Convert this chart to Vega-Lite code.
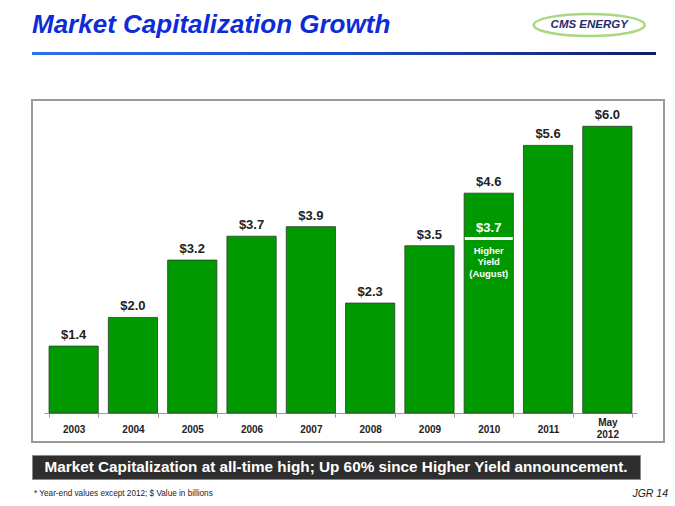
{
  "$schema": "https://vega.github.io/schema/vega-lite/v6.json",
  "padding": {"left": 31, "top": 8, "right": 0, "bottom": 0},
  "background": "white",
  "bounds": "flush",
  "spacing": 13,
  "config": {"view": {"stroke": null}, "font": "Liberation Sans"},
  "vconcat": [
    {
      "width": 624,
      "height": 78,
      "data": {"values": [{"title": "Market Capitalization Growth", "logo": "CMS ENERGY"}]},
      "layer": [
        {
          "mark": {"type": "text", "font": "Liberation Sans", "fontSize": 26, "fontWeight": "bold", "fontStyle": "italic", "color": "#0d2bdb", "align": "left", "baseline": "middle"},
          "encoding": {
            "x": {"datum": 0, "type": "quantitative", "scale": {"domain": [0, 1]}, "axis": null},
            "y": {"datum": 0.795, "type": "quantitative", "scale": {"domain": [0, 1]}, "axis": null},
            "text": {"field": "title"}
          }
        },
        {
          "mark": {"type": "point", "shape": "M -1 0 A 1 0.2 0 1 1 1 0 A 1 0.2 0 1 1 -1 0", "size": 12321, "filled": false, "strokeWidth": 2.5, "color": "#86c94a"},
          "encoding": {
            "x": {"datum": 0.893, "type": "quantitative"},
            "y": {"datum": 0.795, "type": "quantitative"}
          }
        },
        {
          "mark": {"type": "text", "fontSize": 11.5, "fontWeight": "bold", "fontStyle": "italic", "color": "#1f2d6e", "align": "center", "baseline": "middle"},
          "encoding": {
            "x": {"datum": 0.893, "type": "quantitative"},
            "y": {"datum": 0.795, "type": "quantitative"},
            "text": {"field": "logo"}
          }
        },
        {
          "mark": {"type": "rect", "color": {"gradient": "linear", "x1": 0, "x2": 1, "y1": 0, "y2": 0, "stops": [{"offset": 0, "color": "#2f6fe8"}, {"offset": 0.5, "color": "#1f4fc8"}, {"offset": 1, "color": "#101c66"}]}},
          "encoding": {
            "x": {"datum": 0, "type": "quantitative"},
            "x2": {"datum": 1},
            "y": {"datum": 0.449, "type": "quantitative"},
            "y2": {"datum": 0.41}
          }
        }
      ]
    },
    {
      "width": 632,
      "height": 342,
      "view": {"stroke": "#9a9a9a", "strokeWidth": 2},
      "data": {"values": [
        {"year": "2003", "value": 1.4, "label": "$1.4"},
        {"year": "2004", "value": 2.0, "label": "$2.0"},
        {"year": "2005", "value": 3.2, "label": "$3.2"},
        {"year": "2006", "value": 3.7, "label": "$3.7"},
        {"year": "2007", "value": 3.9, "label": "$3.9"},
        {"year": "2008", "value": 2.3, "label": "$2.3"},
        {"year": "2009", "value": 3.5, "label": "$3.5"},
        {"year": "2010", "value": 4.6, "label": "$4.6"},
        {"year": "2011", "value": 5.6, "label": "$5.6"},
        {"year": "May 2012", "value": 6.0, "label": "$6.0"}
      ]},
      "encoding": {
        "x": {
          "field": "year",
          "type": "nominal",
          "scale": {"domain": ["2003", "2004", "2005", "2006", "2007", "2008", "2009", "2010", "2011", "May 2012"], "range": [12, 605], "paddingInner": 0.17, "paddingOuter": 0.085},
          "axis": {
            "title": null,
            "orient": "bottom",
            "offset": -29,
            "domain": true,
            "domainColor": "#999999",
            "domainWidth": 1,
            "ticks": true,
            "tickBand": "extent",
            "tickSize": 4,
            "tickColor": "#999999",
            "grid": false,
            "labelAngle": 0,
            "labelFont": "Liberation Sans",
            "labelFontSize": 10,
            "labelFontWeight": "bold",
            "labelColor": "#222222",
            "labelBaseline": "middle",
            "labelPadding": {"condition": {"test": "datum.value == 'May 2012'", "value": 5}, "value": 12},
            "labelLineHeight": 12,
            "labelExpr": "datum.value == 'May 2012' ? ['May', '2012'] : datum.label"
          }
        }
      },
      "layer": [
        {
          "mark": {"type": "bar", "color": "#009a00", "stroke": "#2d3b2d", "strokeWidth": 0.8},
          "encoding": {
            "y": {"field": "value", "type": "quantitative", "scale": {"domain": [-0.607, 6.55], "nice": false, "zero": false}, "axis": null},
            "y2": {"datum": 0}
          }
        },
        {
          "mark": {"type": "text", "baseline": "bottom", "dy": -4, "fontSize": 13, "fontWeight": "bold", "color": "#222222"},
          "encoding": {
            "y": {"field": "value", "type": "quantitative"},
            "text": {"field": "label"}
          }
        },
        {
          "data": {"values": [{"year": "2010", "prior": 3.65, "priorLabel": "$3.7", "note": "Higher|Yield|(August)"}]},
          "layer": [
            {
              "mark": {"type": "tick", "color": "white", "thickness": 3, "size": 48, "opacity": 1},
              "encoding": {"y": {"field": "prior", "type": "quantitative"}}
            },
            {
              "mark": {"type": "text", "baseline": "bottom", "dy": -4, "fontSize": 13, "fontWeight": "bold", "color": "white"},
              "encoding": {"y": {"field": "prior", "type": "quantitative"}, "text": {"field": "priorLabel"}}
            },
            {
              "mark": {"type": "text", "baseline": "top", "dy": 7, "fontSize": 9.5, "fontWeight": "bold", "color": "white", "lineBreak": "|", "lineHeight": 11.5},
              "encoding": {"y": {"field": "prior", "type": "quantitative"}, "text": {"field": "note"}}
            }
          ]
        }
      ]
    },
    {
      "width": 608,
      "height": 24,
      "view": {"fill": "#2e2e2e", "stroke": "#8a8a8a", "strokeWidth": 1},
      "data": {"values": [{"msg": "Market Capitalization at all-time high; Up 60% since Higher Yield announcement."}]},
      "mark": {"type": "text", "color": "white", "font": "Liberation Sans", "fontSize": 15.3, "fontWeight": "bold", "baseline": "middle", "align": "center"},
      "encoding": {"text": {"field": "msg"}}
    },
    {
      "width": 636,
      "height": 4,
      "data": {"values": [{"left": "* Year-end values except 2012;  $ Value in billions", "right": "JGR 14"}]},
      "layer": [
        {
          "mark": {"type": "text", "align": "left", "baseline": "middle", "dx": 2, "font": "Liberation Sans", "fontSize": 8.2, "color": "#222222"},
          "encoding": {
            "x": {"datum": 0, "type": "quantitative", "scale": {"domain": [0, 1]}, "axis": null},
            "y": {"datum": 0.5, "type": "quantitative", "scale": {"domain": [0, 1]}, "axis": null},
            "text": {"field": "left"}
          }
        },
        {
          "mark": {"type": "text", "align": "right", "baseline": "middle", "fontSize": 10.5, "fontStyle": "italic", "color": "#222222"},
          "encoding": {
            "x": {"datum": 1, "type": "quantitative"},
            "y": {"datum": 0.5, "type": "quantitative"},
            "text": {"field": "right"}
          }
        }
      ]
    }
  ]
}
